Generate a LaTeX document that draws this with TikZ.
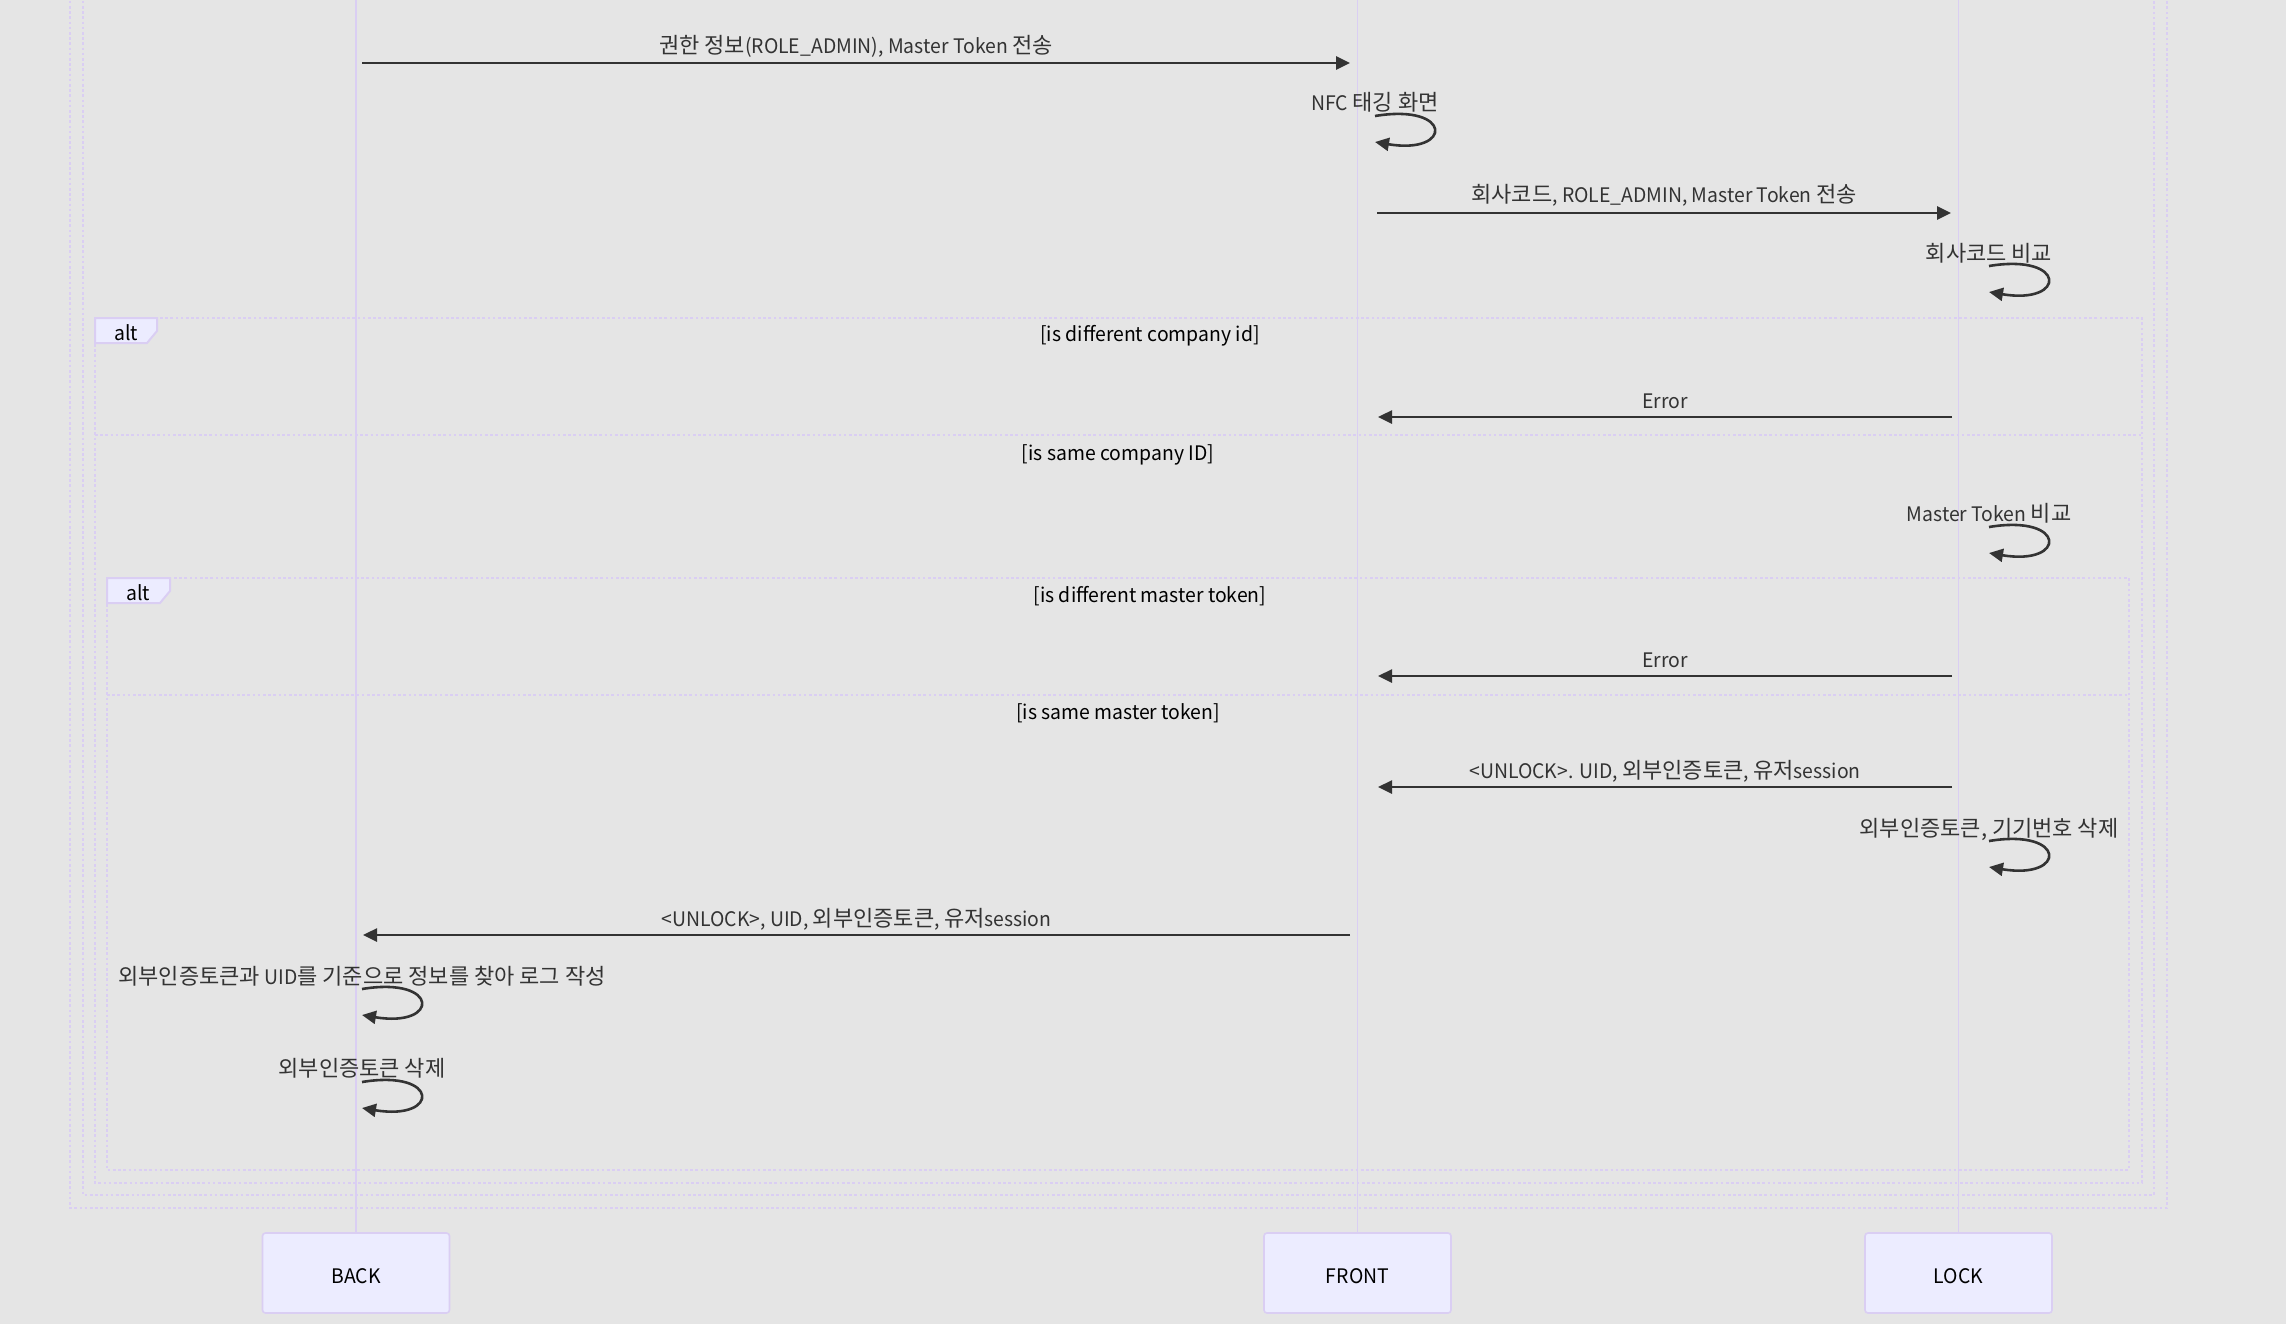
\documentclass[tikz,border=0pt]{standalone}
\usepackage{fontspec}
\setmainfont{Noto Sans CJK KR}[FakeStretch=0.97]
\newfontfamily\krfont{Noto Sans CJK KR}[Scale=1.1]
\newcommand\kr[1]{{\krfont #1}}
\usetikzlibrary{arrows.meta}
\definecolor{bg}{HTML}{E5E5E5}
\definecolor{lav}{HTML}{DACEF3}
\definecolor{actorfill}{HTML}{ECECFF}
\definecolor{ink}{HTML}{333333}

\begin{document}
\begin{tikzpicture}[x=0.5pt,y=-0.5pt,
  lifeline/.style={draw=lav, line width=0.8pt},
  frameline/.style={draw=lav, line width=1.3pt, dash pattern=on 1.3pt off 1.3pt},
  msg/.style={draw=ink, line width=1.3pt, -{Triangle[length=7pt,width=6.5pt]}},
  lbl/.style={text=ink, font=\fontsize{10pt}{12pt}\selectfont, inner sep=0pt,
              text height=7.5pt, text depth=1.5pt},
  cond/.style={text=black, font=\fontsize{10pt}{12pt}\selectfont, inner sep=0pt,
               text height=7.5pt, text depth=1.5pt},
  actor/.style={draw=lav, fill=actorfill, line width=0.8pt, rounded corners=1.5pt,
                minimum width=93.5pt, minimum height=40pt, inner sep=0pt,
                text height=10pt, text depth=0pt,
                font=\fontsize{10pt}{12pt}\selectfont, text=black},
  tagbox/.style={draw=lav, fill=actorfill, line width=1pt}
]
% canvas
\fill[bg] (0,0) rectangle (2286,1324);
\useasboundingbox (0,0) rectangle (2286,1324);
\clip (0,0) rectangle (2286,1324);

% participants
\node[actor] (BACK)  at (356,1273)    {BACK};
\node[actor] (FRONT) at (1357.5,1273) {FRONT};
\node[actor] (LOCK)  at (1958.5,1273) {LOCK};
\coordinate (BACKtop)  at (356,-5);
\coordinate (FRONTtop) at (1357.5,-5);
\coordinate (LOCKtop)  at (1958.5,-5);
\draw[lifeline] (BACKtop)  -- (BACK.north);
\draw[lifeline] (FRONTtop) -- (FRONT.north);
\draw[lifeline] (LOCKtop)  -- (LOCK.north);

% enclosing blocks that start above the visible part
\draw[frameline] (70,-20) -- (70,1208) -- (2167,1208) -- (2167,-20);
\draw[frameline] (83,-20) -- (83,1195) -- (2154,1195) -- (2154,-20);

% outer alt: company id
\draw[frameline] (95,318) rectangle (2142,1183);
\draw[frameline] (95,435) -- (2142,435);
\draw[tagbox] (95,318) -- (157,318) -- (157,331) -- (147,343) -- (95,343) -- cycle;
\node[cond] (altA) at (126,334) {alt};
\node[cond] (condA1) at (1150,335) {[is different company id]};
\node[cond] (condA2) at (1118,454) {[is same company ID]};

% inner alt: master token
\draw[frameline] (107,578) rectangle (2129,1170);
\draw[frameline] (107,695) -- (2129,695);
\draw[tagbox] (107,578) -- (170,578) -- (170,591) -- (160,603) -- (107,603) -- cycle;
\node[cond] (altB) at (138,594) {alt};
\node[cond] (condB1) at (1150,596) {[is different master token]};
\node[cond] (condB2) at (1118,713) {[is same master token]};

% message end points
\coordinate (m1s) at (362,63);   \coordinate (m1e) at (1350,63);
\coordinate (m3s) at (1377,213); \coordinate (m3e) at (1951,213);
\coordinate (m5s) at (1952,417); \coordinate (m5e) at (1378,417);
\coordinate (m7s) at (1952,676); \coordinate (m7e) at (1378,676);
\coordinate (m8s) at (1952,787); \coordinate (m8e) at (1378,787);
\coordinate (m10s) at (1350,935); \coordinate (m10e) at (363,935);

% self-call end points
\coordinate (s2a) at (1375,116); \coordinate (s2b) at (1375,142);
\coordinate (s4a) at (1989,266); \coordinate (s4b) at (1989,292);
\coordinate (s6a) at (1989,527); \coordinate (s6b) at (1989,553);
\coordinate (s9a) at (1989,841); \coordinate (s9b) at (1989,867);
\coordinate (s11a) at (362,989); \coordinate (s11b) at (362,1015);
\coordinate (s12a) at (362,1082); \coordinate (s12b) at (362,1108);

% messages
\draw[msg] (m1s) -- node[lbl, yshift=8pt] {\kr{권한 정보}(ROLE\_ADMIN), Master Token \kr{전송}} (m1e);
\draw[msg] (m3s) -- node[lbl, yshift=8.5pt] {\kr{회사코드}, ROLE\_ADMIN, Master Token \kr{전송}} (m3e);
\draw[msg] (m5s) -- node[lbl, yshift=7.5pt] {Error} (m5e);
\draw[msg] (m7s) -- node[lbl, yshift=7.5pt] {Error} (m7e);
\draw[msg] (m8s) -- node[lbl, yshift=7.5pt] {<UNLOCK>. UID, \kr{외부인증토큰}, \kr{유저}session} (m8e);
\draw[msg] (m10s) -- node[lbl, yshift=7.5pt] {<UNLOCK>, UID, \kr{외부인증토큰}, \kr{유저}session} (m10e);

% self calls
\draw[msg] (s2a) .. controls +(78,-13) and +(78,13) .. (s2b);
\node[lbl, yshift=6pt] (t2) at (s2a) {NFC \kr{태깅 화면}};
\draw[msg] (s4a) .. controls +(78,-13) and +(78,13) .. (s4b);
\node[lbl, yshift=5.5pt] (t4) at (s4a) {\kr{회사코드 비교}};
\draw[msg] (s6a) .. controls +(78,-13) and +(78,13) .. (s6b);
\node[lbl, yshift=6pt] (t6) at (s6a) {Master Token \kr{비교}};
\draw[msg] (s9a) .. controls +(78,-13) and +(78,13) .. (s9b);
\node[lbl, yshift=5.5pt] (t9) at (s9a) {\kr{외부인증토큰, 기기번호 삭제}};
\draw[msg] (s11a) .. controls +(78,-13) and +(78,13) .. (s11b);
\node[lbl, yshift=5.5pt] (t11) at (s11a) {\kr{외부인증토큰과} UID\kr{를 기준으로 정보를 찾아 로그 작성}};
\draw[msg] (s12a) .. controls +(78,-13) and +(78,13) .. (s12b);
\node[lbl, yshift=6pt] (t12) at (s12a) {\kr{외부인증토큰 삭제}};
\end{tikzpicture}
\end{document}
